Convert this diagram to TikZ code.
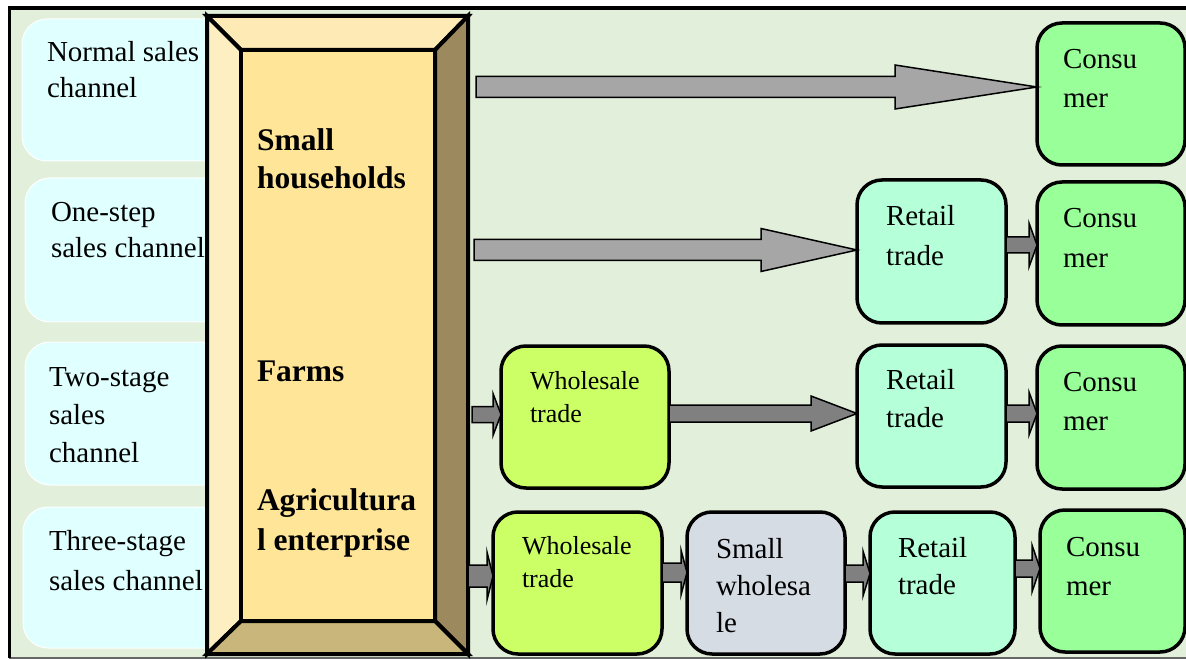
\documentclass[tikz,border=0pt]{standalone}
\usepackage{fontspec}
\setmainfont{Liberation Serif}
\usetikzlibrary{calc}
\definecolor{bgc}{HTML}{E2EFDA}
\definecolor{chanc}{HTML}{E0FFFF}
\definecolor{bvtop}{HTML}{FDEAB4}
\definecolor{bvleft}{HTML}{FEEFC2}
\definecolor{bvinner}{HTML}{FFE598}
\definecolor{bvright}{HTML}{9C8A5E}
\definecolor{bvbottom}{HTML}{C9B67B}
\definecolor{consc}{HTML}{99FF99}
\definecolor{retc}{HTML}{B5FFD9}
\definecolor{whc}{HTML}{CCFF66}
\definecolor{swc}{HTML}{D6DCE4}
\definecolor{lgray}{HTML}{A6A6A6}
\definecolor{dgray}{HTML}{808080}
\newcommand{\myfs}[2]{\fontsize{#1}{#2}\selectfont}
\newcommand{\blockarrow}[6]{%
  \draw[arrowline, fill=#6] let \p1=(#1), \p2=(#2) in
    (\x1,\y1+#3) -- (\x2-#5,\y1+#3) -- (\x2-#5,\y1+#4) -- (\x2,\y1) --
    (\x2-#5,\y1-#4) -- (\x2-#5,\y1-#3) -- (\x1,\y1-#3) -- cycle;}
\tikzset{
  arrowline/.style={draw=black, line width=1.5pt, line join=miter},
  chanbox/.style={fill=chanc, draw=white, line width=1pt, rounded corners=25pt},
  box/.style={draw=black, line width=3.5pt, rounded corners=25pt, inner sep=0pt, outer sep=0pt},
  lab/.style={anchor=north west, inner sep=0pt, outer sep=0pt, align=left},
  face/.style={draw=black, line width=4pt, line join=miter}
}
\begin{document}
\begin{tikzpicture}[x=1pt,y=-1pt]
\useasboundingbox (0,0) rectangle (1186,660);
% frame
\fill[bgc] (9,8) rectangle (1192,658);
\draw[black!60, line width=1.5pt] (9,658) -- (1192,658);
\draw[black, line width=3.5pt] (1192,8) -- (9.5,8) -- (9.5,658);
% channel boxes
\fill[chanbox] (22,19) rectangle (300,161);
\fill[chanbox] (25,178) rectangle (300,322);
\fill[chanbox] (25,342) rectangle (300,485);
\fill[chanbox] (23,507) rectangle (300,648);
\node[lab, font=\myfs{29}{36}] (ch1) at (47,41) {Normal sales\\channel};
\node[lab, font=\myfs{29}{36}] (ch2) at (51,202) {One-step\\sales channel};
\node[lab, font=\myfs{29}{38}] (ch3) at (49,368) {Two-stage\\sales\\channel};
\node[lab, font=\myfs{29}{40}] (ch4) at (49,530) {Three-stage\\sales channel};
% bevel box (source)
\coordinate (oNW) at (207,16);
\coordinate (oNE) at (468,16);
\coordinate (oSE) at (468,654);
\coordinate (oSW) at (207,654);
\coordinate (iNW) at (241,50);
\coordinate (iNE) at (435,50);
\coordinate (iSE) at (435,621);
\coordinate (iSW) at (241,621);
\filldraw[face, fill=bvtop] (oNW) -- (oNE) -- (iNE) -- (iNW) -- cycle;
\filldraw[face, fill=bvleft] (oNW) -- (iNW) -- (iSW) -- (oSW) -- cycle;
\filldraw[face, fill=bvright] (oNE) -- (oSE) -- (iSE) -- (iNE) -- cycle;
\filldraw[face, fill=bvbottom] (oSW) -- (iSW) -- (iSE) -- (oSE) -- cycle;
\filldraw[face, fill=bvinner] (iNW) rectangle (iSE);
\draw[face] (oNW) rectangle (oSE);
\node[lab, font=\bfseries\myfs{31.5}{38}] (sh) at (257,129) {Small\\households};
\node[lab, font=\bfseries\myfs{31.5}{38}] (fa) at (257,361) {Farms};
\node[lab, font=\bfseries\myfs{31.5}{40}] (ag) at (257,489) {Agricultura\\l enterprise};
% boxes
\node[box, fill=consc, minimum width=148pt, minimum height=142pt] (cons1) at (1111,94) {};
\node[box, fill=retc, minimum width=149pt, minimum height=143pt] (ret2) at (931.5,251.5) {};
\node[box, fill=consc, minimum width=148pt, minimum height=143pt] (cons2) at (1111,253.5) {};
\node[box, fill=whc, minimum width=168pt, minimum height=142pt] (wh3) at (585,417) {};
\node[box, fill=retc, minimum width=149pt, minimum height=142pt] (ret3) at (931.5,416) {};
\node[box, fill=consc, minimum width=148pt, minimum height=143pt] (cons3) at (1111,417.5) {};
\node[box, fill=whc, minimum width=169pt, minimum height=142pt] (wh4) at (577.5,583) {};
\node[box, fill=swc, minimum width=158pt, minimum height=142pt] (sw4) at (766,583) {};
\node[box, fill=retc, minimum width=145pt, minimum height=142pt] (ret4) at (942.5,583) {};
\node[box, fill=consc, minimum width=145pt, minimum height=142pt] (cons4) at (1112.5,581) {};
% box texts
\node[lab, font=\myfs{29}{39}] (tcons1) at (1063,49) {Consu\\mer};
\node[lab, font=\myfs{29}{40}] (tret2) at (886,205) {Retail\\trade};
\node[lab, font=\myfs{29}{40}] (tcons2) at (1063,208) {Consu\\mer};
\node[lab, font=\myfs{26}{33}] (twh3) at (530,371) {Wholesale\\trade};
\node[lab, font=\myfs{29}{38}] (tret3) at (886,369) {Retail\\trade};
\node[lab, font=\myfs{29}{39}] (tcons3) at (1063,372) {Consu\\mer};
\node[lab, font=\myfs{26}{33}] (twh4) at (522,536) {Wholesale\\trade};
\node[lab, font=\myfs{29}{37}] (tsw4) at (716,538) {Small\\wholesa\\le};
\node[lab, font=\myfs{29}{37}] (tret4) at (898,537) {Retail\\trade};
\node[lab, font=\myfs{29}{39}] (tcons4) at (1066,537) {Consu\\mer};
% arrows
\coordinate (a1) at (476,87);
\coordinate (a2) at (474,250);
\coordinate (a3) at (472,414.5);
\coordinate (a5) at (468,576);
\blockarrow{a1}{cons1.west}{10.5pt}{22pt}{142pt}{lgray}
\blockarrow{a2}{ret2.west}{10.5pt}{21.5pt}{96pt}{lgray}
\blockarrow{a3}{wh3.west}{8pt}{21pt}{8pt}{dgray}
\blockarrow{[yshift=3.5pt]wh3.east}{ret3.west}{8.5pt}{17.5pt}{46pt}{dgray}
\blockarrow{[yshift=6.5pt]ret2.east}{cons2.west}{8pt}{22pt}{8pt}{dgray}
\blockarrow{[yshift=2.5pt]ret3.east}{cons3.west}{8.5pt}{21.5pt}{8pt}{dgray}
\blockarrow{a5}{wh4.west}{11pt}{24pt}{6pt}{dgray}
\blockarrow{[yshift=10.5pt]wh4.east}{sw4.west}{9.5pt}{22.5pt}{6pt}{dgray}
\blockarrow{[yshift=9.5pt]sw4.east}{ret4.west}{8.5pt}{22.5pt}{7pt}{dgray}
\blockarrow{[yshift=14.5pt]ret4.east}{cons4.west}{8.5pt}{23.5pt}{8pt}{dgray}
\end{tikzpicture}
\end{document}
